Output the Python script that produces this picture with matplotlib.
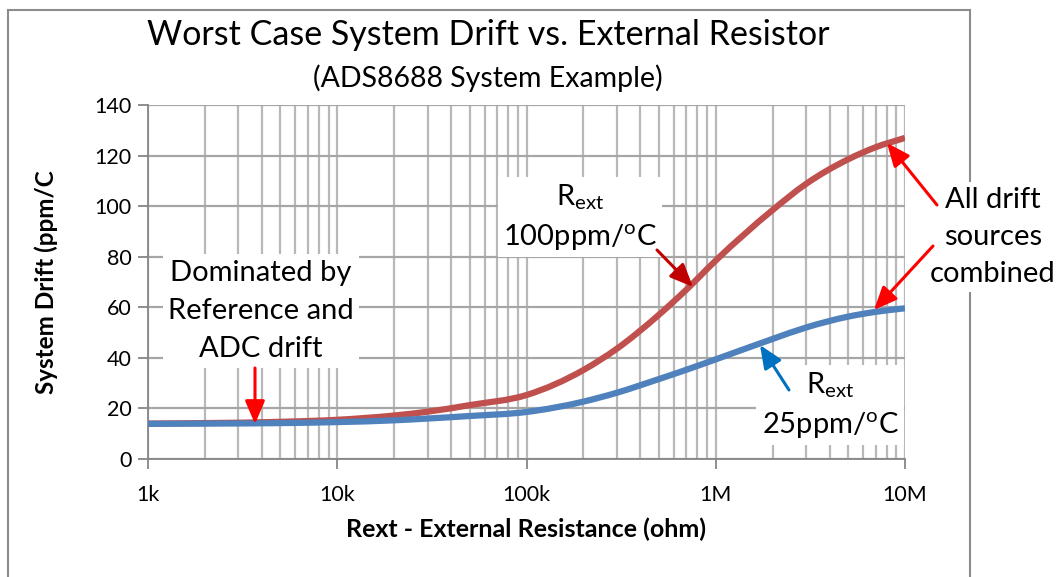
import matplotlib
matplotlib.use("Agg")
import matplotlib.pyplot as plt
from matplotlib.lines import Line2D
from matplotlib.path import Path
from matplotlib.patches import PathPatch
import numpy as np

# ---- data ----
resistance = [1e3, 2e3, 5e3, 1e4, 2e4, 3e4, 5e4, 1e5, 2e5, 3e5, 5e5, 7e5, 1e6, 2e6, 3e6, 5e6, 7e6, 1e7]
drift_100ppm = [14.0, 14.2, 14.7, 15.5, 17.2, 18.7, 21.3, 25.3, 35.2, 43.6, 57.0, 67.0, 78.5, 98.5, 108.8, 118.5, 123.3, 127.0]
drift_25ppm = [13.9, 14.0, 14.2, 14.6, 15.3, 16.0, 17.0, 18.6, 22.7, 26.2, 31.6, 35.3, 39.4, 47.5, 52.0, 56.3, 58.2, 59.6]

x_ticks = [1e3, 1e4, 1e5, 1e6, 1e7]
x_tick_labels = ["1k", "10k", "100k", "1M", "10M"]
y_ticks = [0, 20, 40, 60, 80, 100, 120, 140]

FONT = "Lato"
plt.rcParams["font.family"] = [FONT, "DejaVu Sans"]
plt.rcParams["mathtext.fontset"] = "custom"
plt.rcParams["mathtext.rm"] = FONT
plt.rcParams["mathtext.it"] = FONT + ":italic"
plt.rcParams["mathtext.bf"] = FONT + ":bold"

W, H = 1062, 577
fig = plt.figure(figsize=(W / 100, H / 100), dpi=100)
fig.patch.set_facecolor("white")

# outer chart border
bc = "#8c8c8c"
for xs, ys in [((8 / W, 8 / W), (0, 1 - 10 / H)),
               ((8 / W, 970 / W), (1 - 10 / H, 1 - 10 / H)),
               ((970 / W, 970 / W), (0, 1 - 10 / H))]:
    fig.add_artist(Line2D(xs, ys, transform=fig.transFigure, color=bc, lw=1.5, zorder=-5))

left, right = 148 / W, 905 / W
bottom, top = 1 - 459 / H, 1 - 105 / H
ax = fig.add_axes([left, bottom, right - left, top - bottom])

ax.set_xscale("log")
ax.set_xlim(1e3, 1e7)
ax.set_ylim(0, 140)

grid_c = "#b8b8b8"
ax.grid(True, which="major", axis="y", color="#a6a6a6", lw=1.6, zorder=0)
ax.grid(True, which="both", axis="x", color=grid_c, lw=1.6, zorder=0)

ax.set_xticks(x_ticks)
ax.set_xticklabels(x_tick_labels)
ax.set_yticks(y_ticks)
ax.tick_params(axis="both", which="major", direction="out", length=7, width=1.3,
               color="#868686", labelsize=15.5, pad=5)
ax.tick_params(axis="x", which="major", pad=12)
ax.tick_params(axis="x", which="minor", length=0)
for s in ["top", "right"]:
    ax.spines[s].set_visible(False)
for s in ["left", "bottom"]:
    ax.spines[s].set_color("#868686")
    ax.spines[s].set_linewidth(1.3)
ax.set_axisbelow(True)


def smooth_line(xs, ys, color, z):
    # smoothed line (like Excel's "smoothed line"): cubic Bezier segments through the
    # data points, drawn by matplotlib's Path in log-x space
    u = np.log10(np.asarray(xs, float))
    v = np.asarray(ys, float)
    n = len(u)
    h = np.diff(u)
    d = np.diff(v) / h
    m = np.empty(n)
    m[0], m[-1] = d[0], d[-1]
    m[1:-1] = (h[1:] * d[:-1] + h[:-1] * d[1:]) / (h[:-1] + h[1:])
    verts = [(xs[0], ys[0])]
    codes = [Path.MOVETO]
    for i in range(n - 1):
        c1 = (u[i] + h[i] / 3, v[i] + m[i] * h[i] / 3)
        c2 = (u[i + 1] - h[i] / 3, v[i + 1] - m[i + 1] * h[i] / 3)
        verts += [(10 ** c1[0], c1[1]), (10 ** c2[0], c2[1]), (xs[i + 1], ys[i + 1])]
        codes += [Path.CURVE4] * 3
    ax.add_patch(PathPatch(Path(verts, codes), fill=False, edgecolor=color, lw=4.5,
                           capstyle="butt", joinstyle="round", zorder=z))


smooth_line(resistance, drift_100ppm, "#C0504D", 3)
smooth_line(resistance, drift_25ppm, "#4F81BD", 4)

ax.set_xlabel("Rext - External Resistance (ohm)", fontsize=18, fontweight="bold", labelpad=9)
ax.set_ylabel("System Drift (ppm/C", fontsize=17.5, fontweight="bold", labelpad=26)

fig.text(488 / W, 1 - 35 / H, "Worst Case System Drift vs. External Resistor",
         ha="center", va="center", fontsize=24.5)
fig.text(488 / W, 1 - 78 / H, "(ADS8688 System Example)", ha="center", va="center", fontsize=20.5)


def px2data(px, py):
    return 10 ** (3 + (px - 148) / 189.25), (459 - py) / (354 / 140)


box = dict(facecolor="white", edgecolor="none", pad=4)
afs = 21


def arrow(tail, head, color):
    ax.annotate("", xy=px2data(*head), xytext=px2data(*tail), annotation_clip=False,
                arrowprops=dict(arrowstyle="-|>,head_width=0.3,head_length=0.7",
                                mutation_scale=20, lw=2.2, color=color,
                                shrinkA=0, shrinkB=0), zorder=6)


ax.text(*px2data(261, 311), "Dominated by\nReference and\nADC drift", ha="center", va="center",
        fontsize=afs, linespacing=1.58, bbox=box, zorder=5)
arrow((255, 368), (255, 424), "#FF0000")

ax.text(*px2data(580, 217), "R$_{\\mathrm{ext}}$\n100ppm/$^{\\mathrm{o}}$C", ha="center", va="center",
        fontsize=afs, linespacing=1.45, bbox=box, zorder=5)
arrow((657, 250), (693, 287), "#C00000")

ax.text(*px2data(830, 405), "R$_{\\mathrm{ext}}$\n25ppm/$^{\\mathrm{o}}$C", ha="center", va="center",
        fontsize=afs, linespacing=1.45, bbox=box, zorder=5)
arrow((789, 390), (760, 345), "#0070C0")

ax.text(*px2data(993, 237), "All drift\nsources\ncombined", ha="center", va="center",
        fontsize=afs, linespacing=1.52, bbox=box, zorder=5, clip_on=False)
arrow((937, 205), (887, 143), "#FF0000")
arrow((933, 246), (874, 310), "#FF0000")

fig.savefig("out.png", dpi=100, facecolor="white")
